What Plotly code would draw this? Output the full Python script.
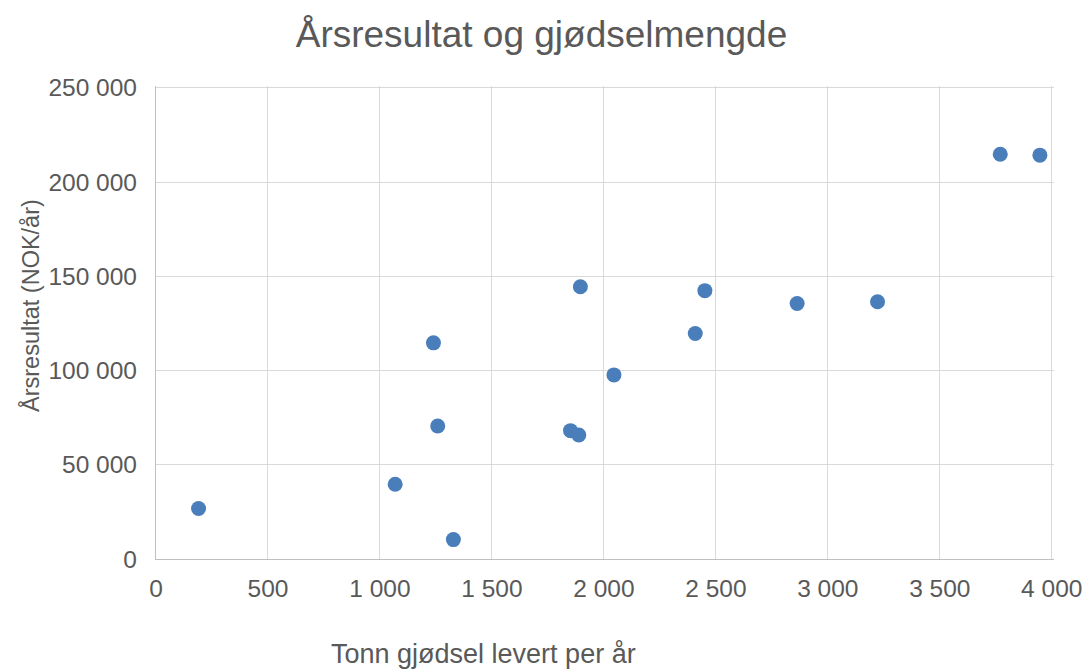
import plotly.graph_objects as go

# Tonn gjødsel levert per år og årsresultat (NOK/år)
tonn_gjodsel = [190, 1068, 1328, 1239, 1258, 1851, 1888, 1895, 2045, 2408, 2451, 2863, 3222, 3770, 3947]
arsresultat = [26800, 39700, 10300, 114700, 70600, 68100, 65800, 144500, 97700, 119700, 142400, 135600, 136500, 214800, 214300]

tittel = "Årsresultat og gjødselmengde"
x_tittel = "Tonn gjødsel levert per år"
y_tittel = "Årsresultat (NOK/år)"

tekstfarge = "#595959"
gridfarge = "#D9D9D9"
aksefarge = "#BFBFBF"
font = "Liberation Sans, Arial, sans-serif"

W, H = 1084, 669
ml, mr, mt, mb = 156, 30, 86, 110
pw, ph = W - ml - mr, H - mt - mb


def papir(px, py):
    return (px - ml) / pw, 1 - (py - mt) / ph


fig = go.Figure(go.Scatter(
    x=tonn_gjodsel, y=arsresultat, mode="markers",
    marker=dict(size=15, color="#4A7EBB", line=dict(width=0)),
    showlegend=False,
))

xt = papir(483, 654)
yt = papir(30, 306)
fig.update_layout(
    width=W, height=H,
    margin=dict(l=ml, r=mr, t=mt, b=mb),
    paper_bgcolor="white", plot_bgcolor="white",
    separators=", ",
    font=dict(family=font, color=tekstfarge),
    title=dict(text=tittel, x=541.5 / W, xanchor="center", xref="container",
               y=1 - 34 / H, yanchor="middle", yref="container",
               font=dict(size=37, color=tekstfarge)),
    annotations=[
        dict(text=x_tittel, x=xt[0], y=xt[1], xref="paper", yref="paper",
             xanchor="center", yanchor="middle", showarrow=False,
             font=dict(size=27)),
        dict(text=y_tittel, textangle=-90, x=yt[0], y=yt[1], xref="paper", yref="paper",
             xanchor="center", yanchor="middle", showarrow=False,
             font=dict(size=23.5)),
    ],
)

# litt ekstra i enden av aksene så rutenettlinjene ved 4 000 og 250 000 blir tegnet
fig.update_xaxes(
    range=[0, 4010], dtick=500, tickformat=",d", automargin=False,
    ticklabeloverflow="allow",
    showgrid=True, gridcolor=gridfarge, gridwidth=1.3,
    zeroline=False, showline=True, linecolor=aksefarge, linewidth=1.3,
    tickfont=dict(size=24.5, color=tekstfarge), ticklabelstandoff=7,
)
fig.update_yaxes(
    range=[0, 251000], dtick=50000, tickformat=",d", automargin=False,
    showgrid=True, gridcolor=gridfarge, gridwidth=1.3,
    zeroline=False, showline=True, linecolor=aksefarge, linewidth=1.3,
    tickfont=dict(size=24.5, color=tekstfarge), ticklabelstandoff=13,
)

# fjern standardmargen på <body> så figuren starter i hjørnet
fig.write_html("out.html", config={"displayModeBar": False},
               post_script="document.body.style.margin = '0';")
